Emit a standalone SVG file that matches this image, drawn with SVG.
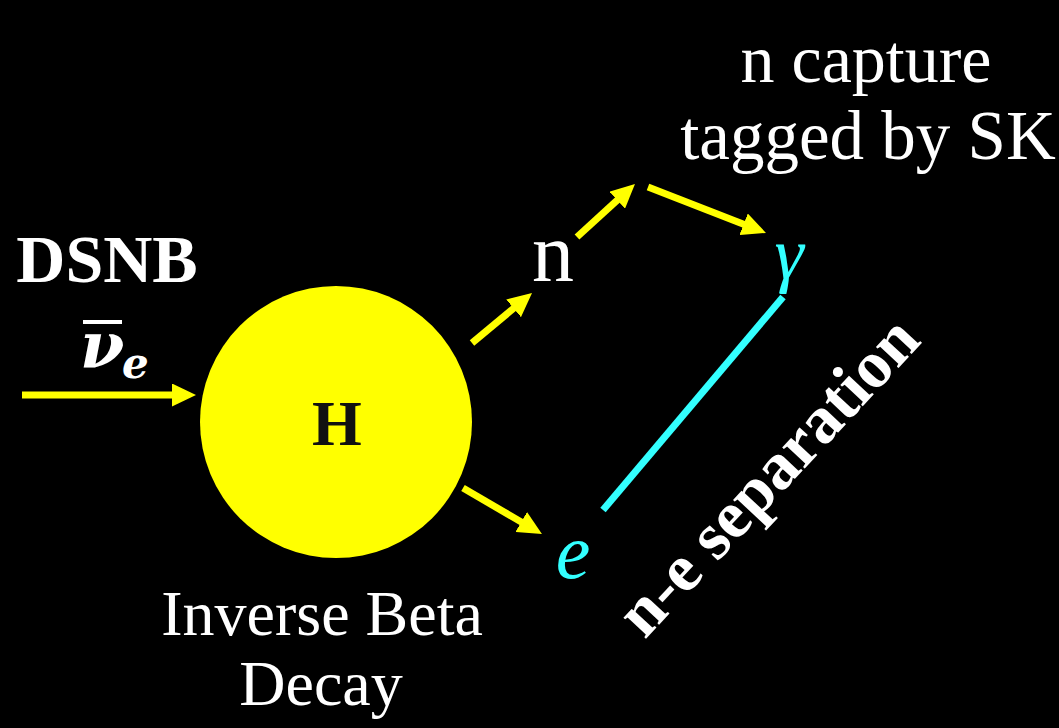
<svg xmlns="http://www.w3.org/2000/svg" width="1059" height="728" viewBox="0 0 1059 728">
<defs>
<marker id="ah" viewBox="0 0 24 23" refX="9" refY="11.5" markerWidth="24" markerHeight="23" markerUnits="userSpaceOnUse" orient="auto">
<path d="M0,0 L24,11.5 L0,23 z" fill="#FFFF00"/>
</marker>
<style>
.arr{stroke:#FFFF00;stroke-width:7;fill:none;marker-end:url(#ah)}
.serif{font-family:"Liberation Serif","Times New Roman",serif}
.w{fill:#FFFFFF}
.c{fill:#33FFFF}
</style>
</defs>
<rect x="0" y="0" width="1059" height="728" fill="#000000"/>
<g id="nucleus">
<circle cx="336" cy="422" r="136" fill="#FFFF00"/>
<text class="serif" x="337" y="445" font-size="64" font-weight="bold" fill="#111111" text-anchor="middle">H</text>
</g>
<g id="dsnb">
<text class="serif w" x="107" y="282" font-size="68" font-weight="bold" text-anchor="middle">DSNB</text>
<rect x="83" y="320" width="39" height="4" fill="#FFFFFF"/>
<text x="80" y="367" font-family="DejaVu Serif, serif" font-size="64" font-weight="bold" font-style="italic" fill="#FFFFFF">ν</text>
<text x="122" y="378" font-family="DejaVu Serif, serif" font-size="42" font-weight="bold" font-style="italic" fill="#FFFFFF">e</text>
</g>
<g id="neutron">
<text class="serif w" x="553" y="281" font-size="84" text-anchor="middle">n</text>
</g>
<g id="gamma">
<text class="serif c" x="789" y="278" font-size="74" font-style="italic" text-anchor="middle">γ</text>
</g>
<g id="electron">
<text class="serif c" x="573" y="578" font-size="78" font-style="italic" text-anchor="middle">e</text>
</g>
<g id="capture-label">
<text class="serif w" x="866" y="82" font-size="68" text-anchor="middle">n capture</text>
<text class="serif w" x="868" y="159" font-size="69" text-anchor="middle">tagged by SK</text>
</g>
<g id="ibd-label">
<text class="serif w" x="322" y="635" font-size="64" text-anchor="middle">Inverse Beta</text>
<text class="serif w" x="321" y="705" font-size="64" text-anchor="middle">Decay</text>
</g>
<g id="separation-label">
<text class="serif w" transform="translate(772,480) rotate(-47)" x="0" y="16" font-size="67" font-weight="bold" text-anchor="middle">n-e separation</text>
</g>
<g id="connectors">
<line class="arr" x1="22" y1="395" x2="181" y2="395"/>
<line class="arr" x1="472" y1="343" x2="520.5" y2="302.6"/>
<line class="arr" x1="577" y1="237" x2="623.9" y2="194.1"/>
<line class="arr" x1="648" y1="187" x2="752" y2="227.5"/>
<line class="arr" x1="463" y1="488" x2="529" y2="526.5"/>
<line x1="783" y1="297" x2="603" y2="510" stroke="#33FFFF" stroke-width="7"/>
</g>
</svg>
